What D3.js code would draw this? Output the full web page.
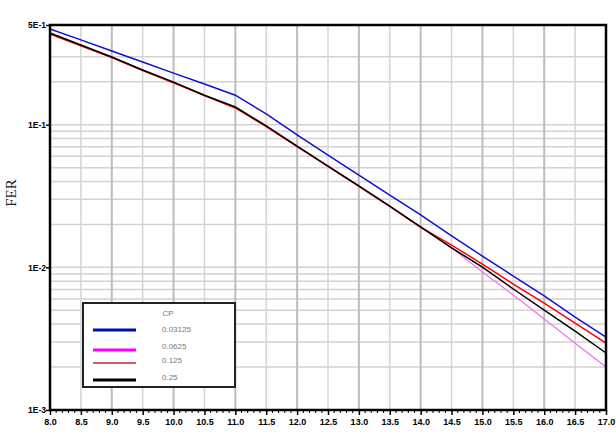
<!DOCTYPE html>
<html>
<head>
<meta charset="utf-8">
<script src="https://cdn.jsdelivr.net/npm/d3@7"></script>
<style>
  body { margin: 0; background: #fff; }
  svg { display: block; }
</style>
</head>
<body>
<svg width="616" height="435"></svg>
<script>
// SNR (dB) on x axis
var snr = [8.0, 8.5, 9.0, 9.5, 10.0, 10.5, 11.0, 11.5, 12.0, 12.5, 13.0, 13.5, 14.0, 14.5, 15.0, 15.5, 16.0, 16.5, 17.0];
var xTickLabels = ["8.0", "8.5", "9.0", "9.5", "10.0", "10.5", "11.0", "11.5", "12.0", "12.5", "13.0", "13.5", "14.0", "14.5", "15.0", "15.5", "16.0", "16.5", "17.0"];
// FER for each CP value
var fer003125 = [0.469, 0.393, 0.329, 0.275, 0.230, 0.193, 0.161, 0.119, 0.0847, 0.0613, 0.0444, 0.0321, 0.0233, 0.0166, 0.0120, 0.00869, 0.0063, 0.00448, 0.00324];
var fer00625 = [0.437, 0.360, 0.297, 0.241, 0.198, 0.161, 0.132, 0.0975, 0.0705, 0.0512, 0.0371, 0.0268, 0.0191, 0.0137, 0.00927, 0.0064, 0.00434, 0.00294, 0.0020];
var fer0125 = [0.432, 0.358, 0.296, 0.240, 0.197, 0.160, 0.131, 0.097, 0.0702, 0.0510, 0.0370, 0.0268, 0.0191, 0.01433, 0.01055, 0.00764, 0.00561, 0.00406, 0.00294];
var fer025 = [0.439, 0.362, 0.298, 0.242, 0.199, 0.161, 0.133, 0.098, 0.0708, 0.0513, 0.0372, 0.0269, 0.0192, 0.0137, 0.01005, 0.00705, 0.00501, 0.00357, 0.00251];
var cpLabels = ["0.03125", "0.0625", "0.125", "0.25"];
var yTickValues = [5e-1, 1e-1, 1e-2, 1e-3];
var yTickLabels = ["5E-1", "1E-1", "1E-2", "1E-3"];

var svg = d3.select("svg");
var marge = { top: 25, bottom: 410, left: 50, right: 606 };

var x = d3.scaleLinear().domain([8, 17]).range([marge.left, marge.right]);
var y = d3.scaleLog().domain([1e-3, 5e-1]).range([marge.bottom, marge.top]);

// 网格
var grid = svg.append("g");
var minorY = [];
[1e-3, 1e-2, 1e-1].forEach(function (d) {
  for (var k = 1; k <= 9; k++) {
    var v = d * k;
    if (v < 0.49 && !(d == 1e-1 && k == 4)) minorY.push(v);
  }
});
grid.selectAll(".hg")
  .data(minorY)
  .enter().append("line")
  .attr("x1", marge.left).attr("x2", marge.right)
  .attr("y1", function (d) { return y(d); })
  .attr("y2", function (d) { return y(d); })
  .attr("stroke", "#d2d2d2")
  .attr("stroke-width", 1.5);
grid.selectAll(".vg")
  .data(snr.slice(1, -1))
  .enter().append("line")
  .attr("y1", marge.top).attr("y2", marge.bottom)
  .attr("x1", function (d) { return x(d); })
  .attr("x2", function (d) { return x(d); })
  .attr("stroke", function (d) { return d % 1 == 0 ? "#bdbdbd" : "#d4d4d4"; })
  .attr("stroke-width", function (d) { return d % 1 == 0 ? 2 : 1.5; });

// 曲线
var series = [
  { values: fer00625, color: "#f070f0", width: 1.2 },
  { values: fer0125, color: "#ff0000", width: 1.5 },
  { values: fer025, color: "#000000", width: 1.5 },
  { values: fer003125, color: "#1010d0", width: 1.5 }
];
var line = d3.line()
  .x(function (d, i) { return x(snr[i]); })
  .y(function (d) { return y(d); });
svg.selectAll(".curve")
  .data(series)
  .enter().append("path")
  .attr("d", function (d) { return line(d.values); })
  .attr("fill", "none")
  .attr("stroke", function (d) { return d.color; })
  .attr("stroke-width", function (d) { return d.width; });

// 坐标轴
var xAxis = d3.axisBottom(x)
  .tickValues(snr)
  .tickSize(5)
  .tickFormat(function (d, i) { return xTickLabels[i]; });
var gx = svg.append("g")
  .attr("transform", "translate(0," + marge.bottom + ")")
  .call(xAxis);
gx.select(".domain").remove();
gx.selectAll("line").attr("stroke", "#000").attr("stroke-width", 1.5);
gx.selectAll("text")
  .attr("y", 9)
  .attr("dy", "0.71em")
  .style("font-family", "Liberation Sans, Arial, sans-serif")
  .style("font-size", "9px")
  .style("font-weight", "bold")
  .attr("fill", "#000");

var minorX = d3.range(80, 171, 1).map(function (d) { return d / 10; })
  .filter(function (d) { return Math.round(d * 10) % 5 != 0; });
svg.append("g").selectAll("line")
  .data(minorX)
  .enter().append("line")
  .attr("x1", function (d) { return x(d); })
  .attr("x2", function (d) { return x(d); })
  .attr("y1", marge.bottom).attr("y2", marge.bottom + 3)
  .attr("stroke", "#000")
  .attr("stroke-width", 1);

var yAxis = d3.axisLeft(y)
  .tickValues(yTickValues)
  .tickSize(4)
  .tickFormat(function (d, i) { return yTickLabels[i]; });
var gy = svg.append("g")
  .attr("transform", "translate(" + marge.left + ",0)")
  .call(yAxis);
gy.select(".domain").remove();
gy.selectAll("line").attr("stroke", "#000").attr("stroke-width", 1.5);
gy.selectAll("text")
  .attr("x", -4)
  .style("font-family", "Liberation Sans, Arial, sans-serif")
  .style("font-size", "8.5px")
  .style("font-weight", "bold")
  .attr("fill", "#000");

// 外框
svg.append("rect")
  .attr("x", marge.left).attr("y", marge.top)
  .attr("width", marge.right - marge.left).attr("height", marge.bottom - marge.top)
  .attr("fill", "none")
  .attr("stroke", "#000")
  .attr("stroke-width", 2.5);

svg.append("text")
  .attr("transform", "translate(16,193) rotate(-90)")
  .attr("text-anchor", "middle")
  .style("font-family", "Liberation Serif, Times New Roman, serif")
  .style("font-size", "15px")
  .attr("fill", "#222")
  .text("FER");

// 图例
var lg = svg.append("g");
lg.append("rect")
  .attr("x", 83).attr("y", 303)
  .attr("width", 152).attr("height", 84)
  .attr("fill", "#fff")
  .attr("stroke", "#222")
  .attr("stroke-width", 2);
lg.append("text")
  .attr("x", 168).attr("y", 316)
  .attr("text-anchor", "middle")
  .style("font-family", "Liberation Sans, Arial, sans-serif")
  .style("font-size", "8px")
  .attr("fill", "#777")
  .text("CP");
var legendItems = [
  { label: cpLabels[0], color: "#0010b0", width: 3, ly: 330, ty: 332 },
  { label: cpLabels[1], color: "#ff00ff", width: 3, ly: 350, ty: 349 },
  { label: cpLabels[2], color: "#d06060", width: 2, ly: 363, ty: 363 },
  { label: cpLabels[3], color: "#000000", width: 3, ly: 380, ty: 380 }
];
var items = lg.selectAll(".item")
  .data(legendItems)
  .enter().append("g");
items.append("line")
  .attr("x1", 93).attr("x2", 136)
  .attr("y1", function (d) { return d.ly; })
  .attr("y2", function (d) { return d.ly; })
  .attr("stroke", function (d) { return d.color; })
  .attr("stroke-width", function (d) { return d.width; });
items.append("text")
  .attr("x", 162)
  .attr("y", function (d) { return d.ty; })
  .style("font-family", "Liberation Sans, Arial, sans-serif")
  .style("font-size", "8px")
  .attr("fill", "#777")
  .text(function (d) { return d.label; });
</script>
</body>
</html>
